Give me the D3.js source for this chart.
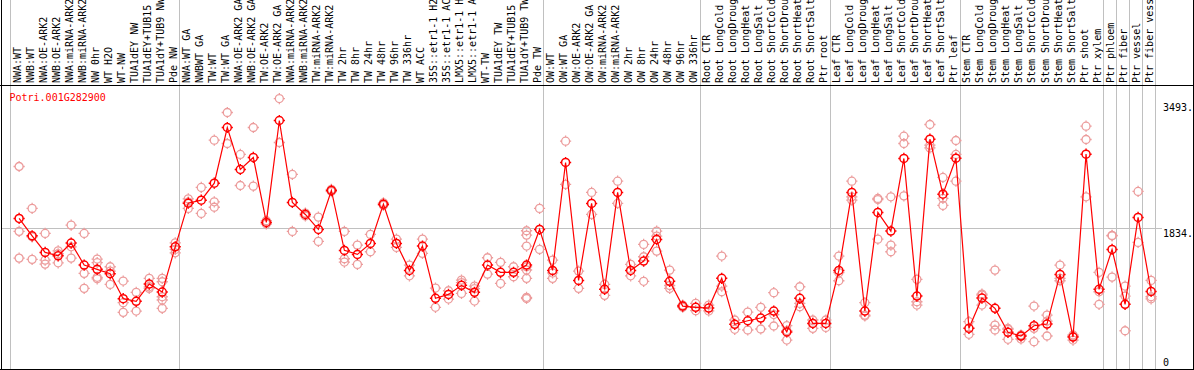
<!DOCTYPE html>
<html><head><meta charset="utf-8">
<script src="https://cdn.jsdelivr.net/npm/d3@7"></script>
<style>
html,body{margin:0;padding:0;background:#fff;}
svg{display:block;}
text{font-family:"DejaVu Sans Mono",monospace;font-size:10px;}
</style></head><body>
<svg id="chart" width="1194" height="370"></svg>
<script>
const title = "Potri.001G282900";
const categories = [
"NWA:WT","NWB:WT","NWA:OE-ARK2","NWB:OE-ARK2","NWA:miRNA-ARK2","NWB:miRNA-ARK2","NW 0hr","WT H2O","WT-NW","TUA1dEY NW","TUA1dEY+TUB15 NW","TUA1dY+TUB9 NW","Pde NW",
"NWA:WT GA","NWBWT GA","TW:WT","TW:WT GA","NWA:OE-ARK2 GA","NWB:OE-ARK2 GA","TW:OE-ARK2","TW:OE-ARK2 GA","NWA:miRNA-ARK2 GA","NWB:miRNA-ARK2 GA","TW:miRNA-ARK2","TW:miRNA-ARK2 GA","TW 2hr","TW 8hr","TW 24hr","TW 48hr","TW 96hr","TW 336hr","WT ACC","35S::etr1-1 H2O","35S::etr1-1 ACC","LMX5::etr1-1 H2O","LMX5::etr1-1 ACC","WT-TW","TUA1dEY TW","TUA1dEY+TUB15 TW","TUA1dY+TUB9 TW","Pde TW",
"OW:WT","OW:WT GA","OW:OE-ARK2","OW:OE-ARK2 GA","OW:miRNA-ARK2","OW:miRNA-ARK2 GA","OW 2hr","OW 8hr","OW 24hr","OW 48hr","OW 96hr","OW 336hr",
"Root CTR","Root LongCold","Root LongDrought","Root LongHeat","Root LongSalt","Root ShortCold","Root ShortDrought","Root ShortHeat","Root ShortSalt","Ptr root",
"Leaf CTR","Leaf LongCold","Leaf LongDrought","Leaf LongHeat","Leaf LongSalt","Leaf ShortCold","Leaf ShortDrought","Leaf ShortHeat","Leaf ShortSalt","Ptr leaf",
"Stem CTR","Stem LongCold","Stem LongDrought","Stem LongHeat","Stem LongSalt","Stem ShortCold","Stem ShortDrought","Stem ShortHeat","Stem ShortSalt","Ptr shoot","Ptr xylem",
"Ptr phloem","Ptr fiber","Ptr vessel","Ptr fiber vessel"];
const groupSizes = [13,28,12,10,10,11,1,1,1,1];
const means = [1967,1729,1501,1455,1629,1328,1269,1209,867,831,1068,958,1578,
2176,2217,2450,3212,2637,2802,1912,3308,2186,2021,1816,2350,1529,1474,1624,2162,1624,1255,1588,872,926,1050,954,1328,1228,1228,1328,1816,
1255,2733,1118,2172,995,2323,1255,1382,1679,1105,766,749,
739,1146,516,565,602,698,411,872,529,529,
1255,2323,698,2049,1793,2788,903,3052,2299,2792,
461,876,735,406,356,497,520,1200,342,2847,995,
1542,790,1980,967];
const replicates = [
[2678,1789,1423],[2104,1715,1406],[1761,1396,1341],[1523,1483,1359],[1875,1578,1423],[1761,1214,1009],[1410,1360,1160,1140],[1305,1245,1063],[1109,812,680],[954,698],[1146,1030,1009],[1146,1099,894,849,735],[1633,1542,1496],
[2235,2190,2104],[2391,2035],[3038,2194,2120],[3418,2993],[2843,2418],[3212,2409],[1935,1890],[3609,3007],[2569,1789],[2040,2000],[1985,1652],[2365,2335],[1789,1414,1369],[1601,1337],[1748,1510],[2180,2145],[1683,1570],[1328,1181],[1683,1488],[1013,749],[976,862],[1122,1088,940],[1040,1004,835],[1428,1204],[1365,1077],[1305,1168],[1798,1738,1588,1305,1260,1146,886,870],[2104,1542],
[1396,1220,1146],[3025,2432],[1245,1009],[2323,2021],[1063,913],[2477,2172],[1337,1181],[1611,1442,1105],[1793,1725,1519],[1259,1048,1009],[780,750],[803,703],
[780,700],[1451,1040,962],[575,448],[684,438],[749,452],[949,650,493],[497,430,301],[1031,803,757],[575,529,461],[575,474],
[1451,1223,1113],[2477,2263,2217],[812,643,630],[2240,2225,1683],[2263,1601,1510],[3093,2993,2276],[1132,825,780],[3253,2970,2933],[2528,2240,2145],[3034,2843,2477],
[552,379],[931,917,780],[1259,506,438],[460,448,311],[370,355,315],[766,461,278],[643,560,356],[1328,1146,1113],[370,355,301],[3230,3048,2263],[1228,962,790],
[1734,1729,1163],[1040,903,428],[2336,1638],[1118,894,866]];
const tickValues = [0, 1834, 3493];
const tickLabels = ["0", "1834.", "3493."];
const gridValues = [1834];

const W = 1194, H = 370;
const svg = d3.select("#chart");
const idx = d3.range(categories.length);
const x = d3.scaleBand().domain(idx).range([10, 1155]).paddingInner(0).paddingOuter(0);
const px = i => x(i) + x.bandwidth() * 0.7;
const y = d3.scaleLinear().domain([0, 3493]).range([362, 107]);
const headerY = 85;

// group separators
const bounds = [0];
groupSizes.forEach(s => bounds.push(bounds[bounds.length-1] + s));
const sepX = i => i >= categories.length ? x(categories.length-1) + x.bandwidth() : x(i);
svg.append("g").selectAll("line").data(bounds).join("line")
  .attr("x1", d => Math.round(sepX(d)) + 0.5).attr("x2", d => Math.round(sepX(d)) + 0.5)
  .attr("y1", 0).attr("y2", H)
  .attr("stroke", "#c0c0c0").attr("stroke-width", 1);

// horizontal grid
svg.append("g").selectAll("line").data(gridValues).join("line")
  .attr("x1", 1).attr("x2", 1162)
  .attr("y1", d => Math.round(y(d)) + 0.5).attr("y2", d => Math.round(y(d)) + 0.5)
  .attr("stroke", "#c0c0c0").attr("stroke-width", 1);

// borders
svg.append("line").attr("x1", 0).attr("x2", W).attr("y1", headerY + 0.5).attr("y2", headerY + 0.5).attr("stroke", "#000");
svg.append("line").attr("x1", 1.5).attr("x2", 1.5).attr("y1", 0).attr("y2", H).attr("stroke", "#000");
svg.append("line").attr("x1", 1193.5).attr("x2", 1193.5).attr("y1", 0).attr("y2", H).attr("stroke", "#000");
svg.append("line").attr("x1", 0).attr("x2", W).attr("y1", 369.5).attr("y2", 369.5).attr("stroke", "#000");

// category labels
svg.append("g").selectAll("text").data(idx).join("text")
  .attr("transform", i => `translate(${px(i) + 1.5},${headerY - 2}) rotate(-90)`)
  .attr("fill", "#000")
  .text(i => categories[i]);

// title
svg.append("text").attr("x", 9.5).attr("y", 101).attr("fill", "#ff0000").text(title);

// y tick labels
svg.append("g").selectAll("text").data(tickValues).join("text")
  .attr("x", 1163)
  .attr("y", (d, i) => y(d) + (gridValues.includes(d) ? 9 : 4))
  .attr("fill", "#000")
  .text((d, i) => tickLabels[i]);

const R = 4;
const marker = (cx, cy) => {
  return `M${cx + R},${cy}A${R},${R} 0 1,1 ${cx - R},${cy}A${R},${R} 0 1,1 ${cx + R},${cy}` +
    `M${cx},${cy - R - 1.6}v1.6M${cx},${cy + R}v1.6M${cx - R - 1.6},${cy}h1.6M${cx + R},${cy}h1.6`;
};

// replicates
const repPts = [];
replicates.forEach((arr, i) => arr.forEach(v => repPts.push({i, v})));
svg.append("g").selectAll("path").data(repPts).join("path")
  .attr("d", d => marker(px(d.i), y(d.v)))
  .attr("fill", "none").attr("stroke", "#ec9c9c").attr("stroke-width", 1.3);

// mean line
svg.append("path").datum(idx)
  .attr("d", d3.line().x(i => px(i)).y(i => y(means[i])))
  .attr("fill", "none").attr("stroke", "#ff0000").attr("stroke-width", 1.2);

// mean markers
svg.append("g").selectAll("path").data(idx).join("path")
  .attr("d", i => marker(px(i), y(means[i])))
  .attr("fill", "none").attr("stroke", "#ff0000").attr("stroke-width", 1.5);
</script>
</body></html>
